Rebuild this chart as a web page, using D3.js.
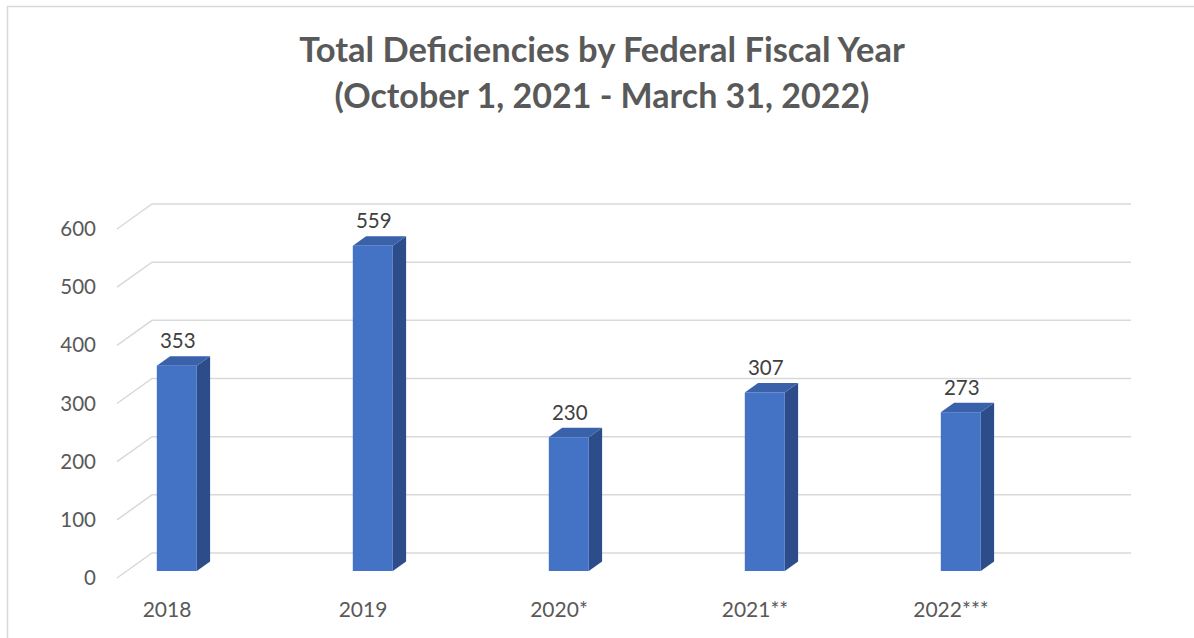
<!DOCTYPE html>
<html>
<head>
<meta charset="utf-8">
<script src="https://cdn.jsdelivr.net/npm/d3@7"></script>
<style>
	body { margin: 0; background: #ffffff; }
	text { font-family: Lato, "Open Sans", sans-serif; }
</style>
</head>
<body>
<svg id="svg">
	<g id="frame" />
	<g id="title" />
	<g id="grid" />
	<g id="yAxis" />
	<g id="mark" />
	<g id="labels" />
	<g id="xAxis" />
</svg>
<script>
// values
const years = ["2018", "2019", "2020*", "2021**", "2022***"];
const deficiencies = [353, 559, 230, 307, 273];
const yTicks = [0, 100, 200, 300, 400, 500, 600];
const titleLines = ["Total Deficiencies by Federal Fiscal Year", "(October 1, 2021 - March 31, 2022)"];

let layout = {"width": 1194,
			  "height": 638,
			  "floorLeft": 117,
			  "floorRight": 1096,
			  "frontZero": 578,
			  "frontTop": 229,
			  "depthX": 35,
			  "depthY": -25,
			  "barFront": 0.28,
			  "barDepth": 0.38,
			  "barWidth": 40};

let data = years.map((y, i) => ({year: y, value: deficiencies[i]}));

let svgElement = d3.select("#svg")
	.attr("width", layout.width)
	.attr("height", layout.height);

// light border round the chart area
svgElement.select("#frame")
	.append("rect")
	.attr("x", 7.5)
	.attr("y", 6.5)
	.attr("width", 1300)
	.attr("height", 800)
	.attr("fill", "none")
	.attr("stroke", "#d9d9d9")
	.attr("stroke-width", 1.5);

svgElement.select("#title")
	.selectAll("text")
	.data(titleLines)
	.join("text")
	.attr("x", 602)
	.attr("y", (d, i) => 62 + i * 46)
	.attr("text-anchor", "middle")
	.attr("font-size", (d, i) => i == 0 ? 34.5 : 34)
	.attr("font-weight", "bold")
	.attr("fill", "#595959")
	.text(d => d);

// x scale gives the centre of each category on the front plane
let xScale = d3.scalePoint()
	.domain(years)
	.range([167, 951]);

// y scale on the front plane (depth 0)
let yScale = d3.scaleLinear()
	.domain([0, 600])
	.range([layout.frontZero, layout.frontTop]);

// oblique projection: depth t in [0,1] shifts up and right
function px(x, t) { return x + layout.depthX * t; }
function py(y, t) { return y + layout.depthY * t; }

let gridPath = v => {
	let y = yScale(v);
	return `M${layout.floorLeft},${y} L${px(layout.floorLeft, 1)},${py(y, 1)} L${px(layout.floorRight, 1)},${py(y, 1)}`;
};

svgElement.select("#grid")
	.selectAll("path")
	.data(yTicks)
	.join("path")
	.attr("d", gridPath)
	.attr("fill", "none")
	.attr("stroke", "#d9d9d9")
	.attr("stroke-width", 1.5);

svgElement.select("#yAxis")
	.selectAll("text")
	.data(yTicks)
	.join("text")
	.attr("x", 96)
	.attr("y", d => yScale(d) + 7)
	.attr("text-anchor", "end")
	.attr("font-size", 20.5)
	.attr("fill", "#595959")
	.text(d => d);

let t0 = layout.barFront;
let t1 = layout.barFront + layout.barDepth;

// corners of a bar for a given datum
function barBox(d) {
	let left = xScale(d.year) - layout.barWidth / 2;
	let right = left + layout.barWidth;
	return {left: left, right: right, top: yScale(d.value), bottom: yScale(0)};
}

let bars = svgElement.select("#mark")
	.selectAll(".bar")
	.data(data)
	.join("g")
	.attr("class", "bar");

bars.append("path")
	.attr("class", "side")
	.attr("fill", "#2c4d89")
	.attr("d", d => {
		let b = barBox(d);
		return `M${px(b.right, t0)},${py(b.top, t0)} L${px(b.right, t1)},${py(b.top, t1)} ` +
			   `L${px(b.right, t1)},${py(b.bottom, t1)} L${px(b.right, t0)},${py(b.bottom, t0)} Z`;
	});

bars.append("path")
	.attr("class", "top")
	.attr("fill", "#3a62ab")
	.attr("d", d => {
		let b = barBox(d);
		return `M${px(b.left, t0)},${py(b.top, t0)} L${px(b.left, t1)},${py(b.top, t1)} ` +
			   `L${px(b.right, t1)},${py(b.top, t1)} L${px(b.right, t0)},${py(b.top, t0)} Z`;
	});

bars.append("rect")
	.attr("class", "front")
	.attr("fill", "#4472c4")
	.attr("x", d => px(barBox(d).left, t0))
	.attr("y", d => py(barBox(d).top, t0))
	.attr("width", layout.barWidth)
	.attr("height", d => yScale(0) - yScale(d.value));

svgElement.select("#labels")
	.selectAll("text")
	.data(data)
	.join("text")
	.attr("x", d => px(xScale(d.year), t0) + 1)
	.attr("y", d => py(yScale(d.value), t1) - 8)
	.attr("text-anchor", "middle")
	.attr("font-size", 20.5)
	.attr("fill", "#404040")
	.text(d => d.value);

svgElement.select("#xAxis")
	.selectAll("text")
	.data(years)
	.join("text")
	.attr("x", d => xScale(d))
	.attr("y", 617)
	.attr("text-anchor", "middle")
	.attr("font-size", 21)
	.attr("fill", "#595959")
	.text(d => d);
</script>
</body>
</html>
